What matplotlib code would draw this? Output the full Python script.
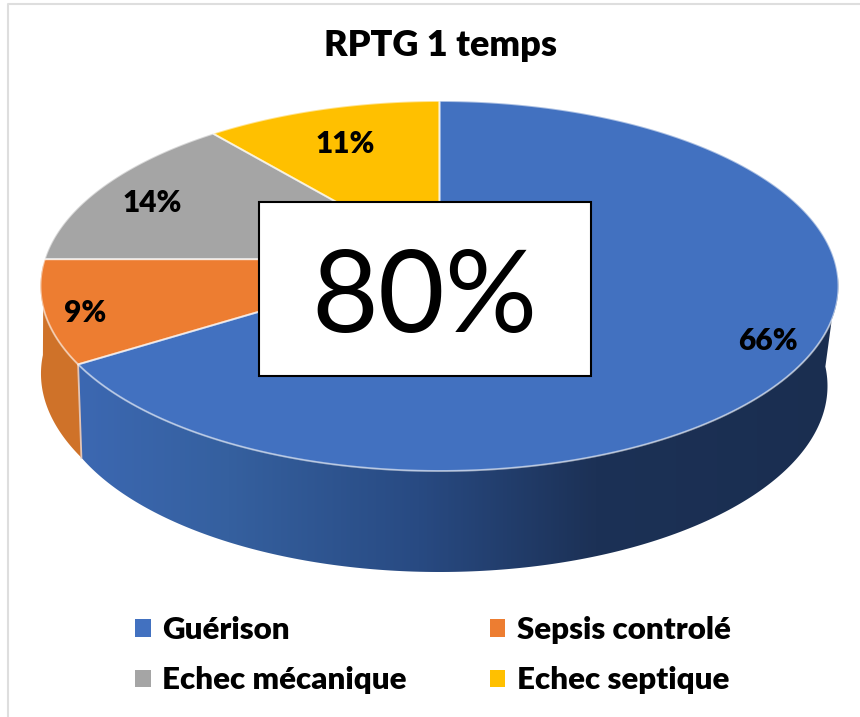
import matplotlib
matplotlib.use("Agg")
import matplotlib.pyplot as plt
import numpy as np
from matplotlib.colors import LinearSegmentedColormap
from matplotlib.patches import Patch, Polygon, Rectangle

plt.rcParams["font.family"] = ["Lato", "DejaVu Sans"]

TITLE = "RPTG 1 temps"
CATEGORIES = ["Guérison", "Sepsis controlé", "Echec mécanique", "Echec septique"]
VALUES = [66, 9, 14, 11]
COLORS = ["#4271c0", "#ed7d31", "#a5a5a5", "#ffc000"]
BOX_TEXT = "80%"

# geometry of the tilted disc, in pixels
CX, CY, RX, RY = 439.5, 286, 399, 185
BOT_CY, BOT_RX, BOT_RY = 386, 388, 186
K_TOP, K_BOT = 0.145, 0.19
BOLD = "heavy"


def project(theta, cx, cy, rx, ry, k):
    # clockwise degrees from 12 o'clock -> pixel, with a bit of perspective
    t = np.radians(theta)
    u, v = np.sin(t), np.cos(t)
    d = 1 + k * v
    return np.column_stack([cx + rx * u * np.sqrt(1 - k**2) / d, cy - ry * (v + k) / d])


def top(theta):
    return project(theta, CX, CY, RX, RY, K_TOP)


def bottom(theta):
    return project(theta, CX, BOT_CY, BOT_RX, BOT_RY, K_BOT)


def wall(a, b, flare=0):
    th = np.linspace(a, b, 200)
    low = bottom(th)
    # the left end of the base sits further out than the projection gives
    low[:, 0] -= flare * np.linspace(0, 1, len(th))
    return np.vstack([top(th), low[::-1]])


fig = plt.figure(figsize=(8.6, 7.17), dpi=100)
ax = fig.add_axes([0, 0, 1, 1])
ax.set_xlim(0, 860)
ax.set_ylim(717, 0)
ax.axis("off")

# chart frame, only left and top show
ax.plot([8, 8, 860], [717, 4, 4], color="#dedede", lw=1.5, zorder=1)

edges = 360 * np.cumsum([0] + VALUES) / sum(VALUES)

# blue side with its left-to-right shading
side_cmap = LinearSegmentedColormap.from_list(
    "side", [(0, "#3c68b2"), (0.2, "#35609f"), (0.45, "#284a82"), (0.68, "#1c3156"), (1, "#1a2e50")]
)
side_poly = Polygon(wall(95, edges[1]), closed=True, transform=ax.transData, fc="none", ec="none")
ax.add_patch(side_poly)
ramp = np.linspace(0, 1, 256).reshape(1, -1)
im = ax.imshow(ramp, cmap=side_cmap, extent=(75, 840, 717, 0), aspect="auto", zorder=2)
im.set_clip_path(side_poly)
ax.set_xlim(0, 860)
ax.set_ylim(717, 0)

# orange side
ax.add_patch(Polygon(wall(edges[1], edges[1] + 31, flare=14), closed=True, fc="#cf7229", ec="none", zorder=2))
a = edges[1]
ax.plot(*np.vstack([top(np.array([a])), bottom(np.array([a]))]).T, color="#e3c4b4", lw=1.3, zorder=3)

# top face
for i, col in enumerate(COLORS):
    th = np.linspace(edges[i], edges[i + 1], 200)
    apex = [[CX, CY - RY * K_TOP]]
    ax.add_patch(Polygon(np.vstack([apex, top(th)]), closed=True, fc=col, ec="none", zorder=4))
for i, col in enumerate(COLORS):
    th = np.linspace(edges[i], edges[i + 1], 200)
    apex = [[CX, CY - RY * K_TOP]]
    ax.add_patch(Polygon(np.vstack([apex, top(th)]), closed=True, fc="none", ec="white",
                         alpha=0.55, lw=1.4, zorder=5))

# white box on top of the pie
ax.add_patch(Rectangle((259, 202), 332, 174, fc="white", ec="black", lw=1.5, zorder=6))
ax.text(424.5, 300, BOX_TEXT, fontsize=83, ha="center", va="center", color="black", zorder=7)

ax.text(440, 46, TITLE, fontsize=26, fontweight=BOLD, ha="center", va="center")

# percentage labels
label_pos = [(768, 341), (85, 313), (152, 203), (345, 144)]
for v, (x, y) in zip(VALUES, label_pos):
    ax.text(x, y, f"{v}%", fontsize=21.5, fontweight=BOLD, ha="center", va="center", zorder=7)

# legend reads row by row, matplotlib fills column by column
order = [0, 2, 1, 3]
handles = [Patch(fc=COLORS[i], ec="none") for i in order]
ax.legend(
    handles, [CATEGORIES[i] for i in order], ncol=2, frameon=False,
    loc="upper left", bbox_to_anchor=(135, 616), bbox_transform=ax.transData,
    prop={"size": 22.5, "weight": BOLD}, borderpad=0, borderaxespad=0,
    handlelength=0.5, handleheight=0.5, handletextpad=0.36,
    columnspacing=2.67, labelspacing=0.72,
)

fig.savefig("out.png", dpi=100)
